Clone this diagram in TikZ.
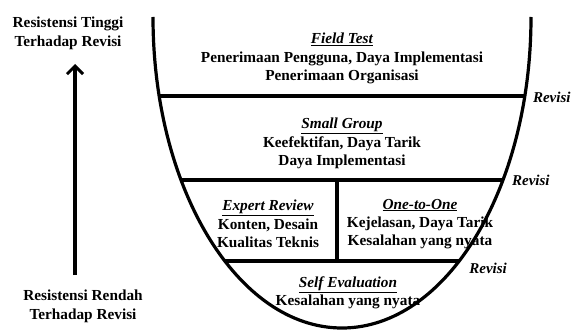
\documentclass[tikz,border=0pt]{standalone}
\usepackage{fontspec}
\setmainfont{Liberation Serif}
\usetikzlibrary{arrows.meta}

\begin{document}
\begin{tikzpicture}[x=1pt, y=1pt,
    stage/.style={align=center, font=\fontsize{15.3}{18.3}\selectfont\bfseries, inner sep=0pt},
    side/.style={align=center, font=\fontsize{15.3}{19}\selectfont\bfseries, inner sep=0pt},
    revisi/.style={anchor=west, font=\fontsize{15}{17}\selectfont\bfseries\itshape, inner sep=0pt},
    wall/.style={line width=3.2pt},
    arrow/.style={-{Straight Barb[length=8pt, width=16pt, line width=3pt]}, line width=3.2pt}
]
    \useasboundingbox (0,0) rectangle (573,330);

    % stages
    \node[stage] (fieldtest) at (342, 271.5) {\underline{\textit{Field Test}}\\Penerimaan Pengguna, Daya Implementasi\\Penerimaan Organisasi};
    \node[stage] (smallgroup) at (342, 186.5) {\underline{\textit{Small Group}}\\Keefektifan, Daya Tarik\\Daya Implementasi};
    \node[stage] (expert) at (268, 106) {\underline{\textit{Expert Review}}\\Konten, Desain\\Kualitas Teknis};
    \node[stage] (onetoone) at (420, 106) {\underline{\textit{One-to-One}}\\Kejelasan, Daya Tarik\\Kesalahan yang nyata};
    \node[stage] (selfeval) at (348, 37) {\underline{\textit{Self Evaluation}}\\Kesalahan yang nyata};

    % levels of the funnel
    \foreach \dy/\name in {79/one, 163/two, 244/three} {
        \pgfmathsetmacro{\hw}{189*sqrt(1-(\dy/311)^2)}
        \coordinate (l\name) at ({342-\hw}, 313-\dy);
        \coordinate (r\name) at ({342+\hw}, 313-\dy);
        \draw[wall] (l\name) -- (r\name);
    }
    \draw[wall] (337, 313-163) -- (337, 313-244);

    % funnel
    \draw[wall] (153, 313) arc[start angle=180, end angle=360, x radius=189, y radius=311];

    \node[revisi] (rev1) at ([xshift=8pt, yshift=-1pt]rone) {Revisi};
    \node[revisi] (rev2) at ([xshift=9pt]rtwo) {Revisi};
    \node[revisi] (rev3) at ([xshift=10pt, yshift=-7pt]rthree) {Revisi};

    % resistance axis
    \node[side] (tinggi) at (68, 296.5) {Resistensi Tinggi\\Terhadap Revisi};
    \node[side] (rendah) at (83, 23.5) {Resistensi Rendah\\Terhadap Revisi};
    \coordinate (bottom) at (75, 55);
    \coordinate (top) at (75, 266);
    \draw[arrow] (bottom) -- (top);
\end{tikzpicture}
\end{document}
